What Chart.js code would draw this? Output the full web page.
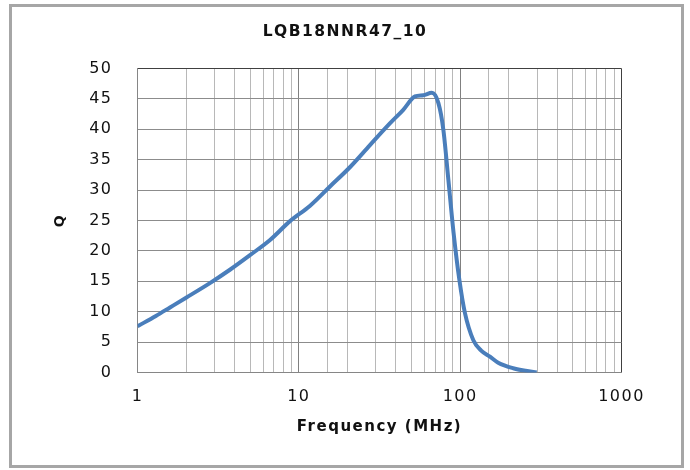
<!DOCTYPE html>
<html>
<head>
<meta charset="utf-8">
<script src="https://cdn.jsdelivr.net/npm/chart.js@4.4.0/dist/chart.umd.min.js"></script>
<style>
body { margin: 0; background: #fff; }
#wrap { position: relative; width: 690px; height: 470px; }
#frame { position: absolute; left: 9px; top: 4px; width: 669px; height: 458px; border: 3px solid #a6a6a6; }
#qChart { position: absolute; left: 0; top: 0; }
</style>
</head>
<body>
<div id="wrap"><div id="frame"></div><canvas id="qChart" width="690" height="470"></canvas></div>
<script>
// Q vs frequency
const freqMHz = [1, 1.3, 1.59, 2, 2.81, 3.74, 4.98, 6.63, 8.82, 11.7, 15.6, 20.8, 27.6, 36.8, 44.4, 52.5, 59.1, 66.7, 73.3, 78.7, 84.5, 91, 98.9, 107, 120.7, 135, 153, 172, 213, 298];
const qValues = [7.6, 9.3, 10.7, 12.3, 14.7, 16.9, 19.3, 21.8, 24.9, 27.4, 30.6, 33.8, 37.4, 41.0, 43.2, 45.4, 45.6, 46.0, 44.3, 39.9, 31.7, 23.0, 15.2, 9.8, 5.3, 3.6, 2.6, 1.6, 0.7, 0];
const xTickLabels = ['1', '10', '100', '1000'];

const FONT = 'DejaVu Sans';

function isDecade(v) {
    const l = Math.log10(v);
    return Math.abs(l - Math.round(l)) < 1e-9;
}

// the reference text is drawn wide, so open it up a little
const spacingPlugin = {
    id: 'spacing',
    beforeDraw(chart) { chart.ctx.letterSpacing = '1.5px'; }
};

document.addEventListener('DOMContentLoaded', function() {
    const points = freqMHz.map((f, i) => ({ x: f, y: qValues[i] }));

    new Chart(document.getElementById('qChart').getContext('2d'), {
        type: 'line',
        data: {
            datasets: [{
                label: 'Q',
                data: points,
                borderColor: '#4a7ebb',
                borderWidth: 4,
                pointRadius: 0,
                fill: false,
                cubicInterpolationMode: 'monotone'
            }]
        },
        options: {
            responsive: false,
            animation: false,
            layout: { padding: 0 },
            plugins: {
                legend: { display: false },
                tooltip: { enabled: false },
                title: {
                    display: true,
                    text: 'LQB18NNR47_10',
                    color: '#111',
                    font: { family: FONT, size: 15.5, weight: 'bold' },
                    padding: { top: 23, bottom: 26.9 }
                }
            },
            scales: {
                x: {
                    type: 'logarithmic',
                    min: 1,
                    max: 1000,
                    afterFit: s => { s.height = 97.5; },
                    ticks: {
                        autoSkip: false,
                        maxRotation: 0,
                        padding: 15,
                        color: '#111',
                        font: { family: FONT, size: 16 },
                        callback: v => isDecade(v) ? xTickLabels[Math.round(Math.log10(v))] : ''
                    },
                    grid: {
                        drawTicks: false,
                        lineWidth: 1,
                        color: ctx => {
                            const v = ctx.tick ? ctx.tick.value : 0;
                            if (v === 1000) return '#404040';
                            return isDecade(v) ? '#808080' : '#b8b8b8';
                        }
                    },
                    border: { color: '#868686' },
                    title: {
                        display: true,
                        text: 'Frequency (MHz)',
                        color: '#111',
                        font: { family: FONT, size: 15, weight: 'bold' },
                        padding: { top: 0, bottom: 34 }
                    }
                },
                y: {
                    min: 0,
                    max: 50,
                    afterFit: s => { s.width = 137.5; },
                    ticks: {
                        stepSize: 5,
                        padding: 25,
                        color: '#111',
                        font: { family: FONT, size: 16 }
                    },
                    grid: {
                        drawTicks: false,
                        lineWidth: 1,
                        color: ctx => (ctx.tick && ctx.tick.value === 50) ? '#404040' : '#8c8c8c'
                    },
                    border: { color: '#868686' },
                    title: {
                        display: true,
                        text: 'Q',
                        color: '#111',
                        font: { family: FONT, size: 14, weight: 'bold' },
                        padding: { top: 52, bottom: 0 }
                    }
                },
                // empty right-hand axis, only keeps the space right of the plot
                spacer: {
                    type: 'linear',
                    position: 'right',
                    afterFit: s => { s.width = 68.5; },
                    ticks: { display: false },
                    grid: { display: false },
                    border: { display: false }
                }
            }
        },
        plugins: [spacingPlugin]
    });
});
</script>
</body>
</html>
